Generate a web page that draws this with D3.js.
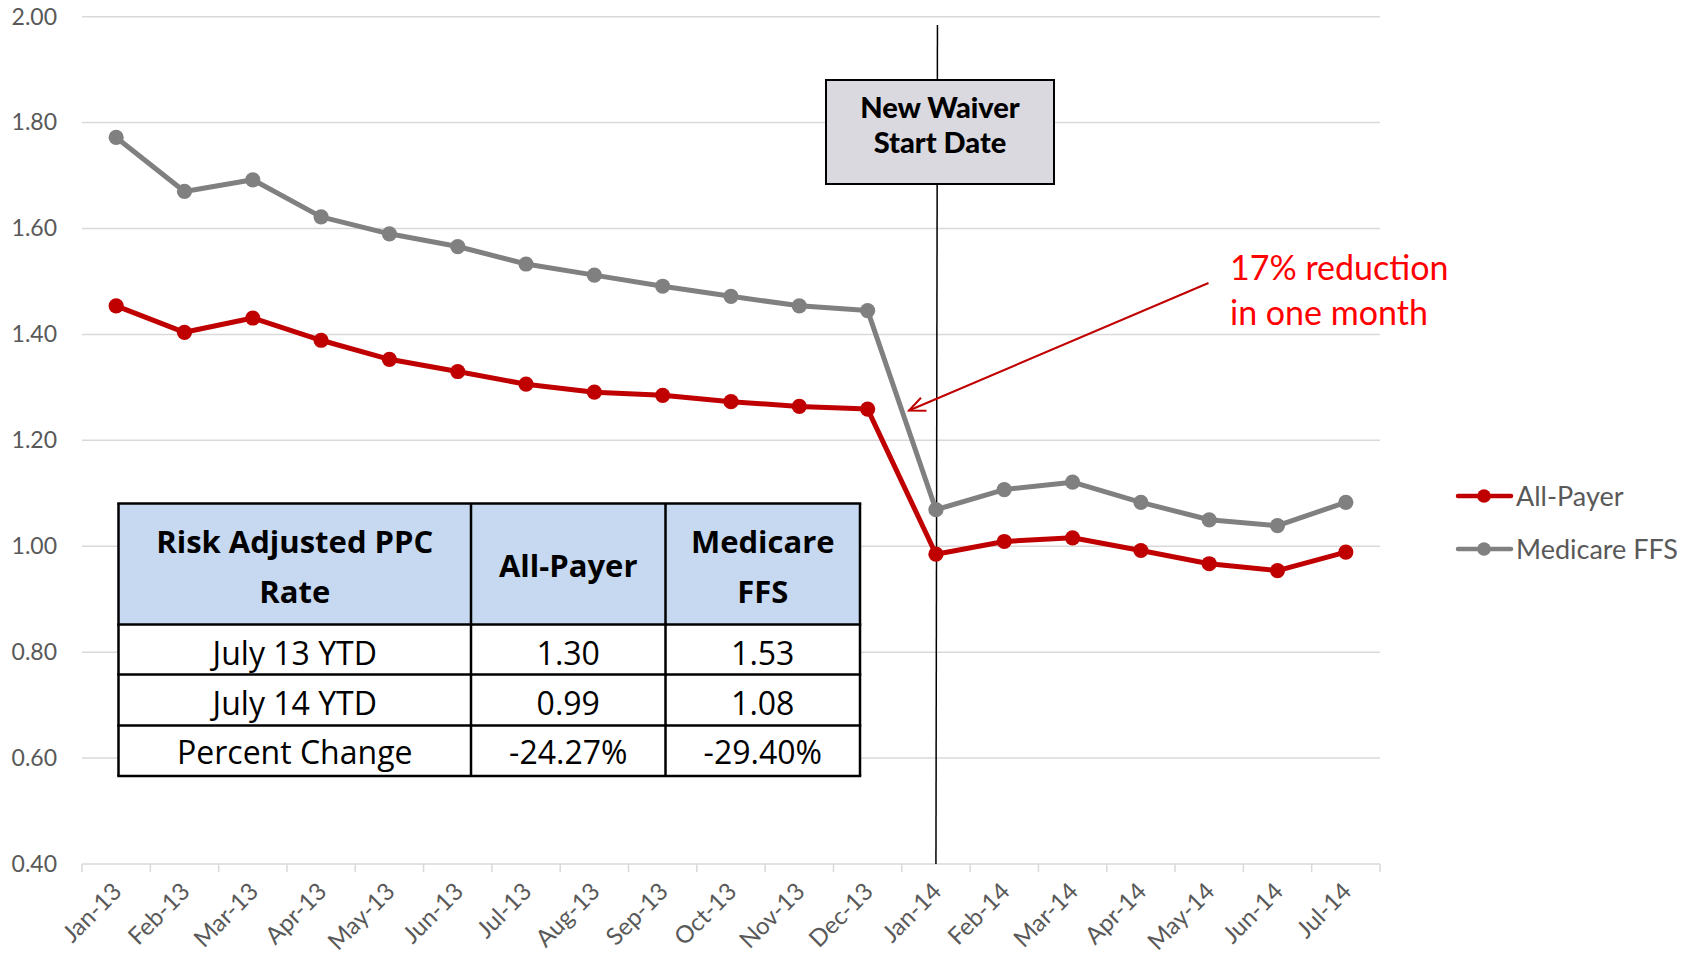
<!DOCTYPE html>
<html>
<head>
<meta charset="utf-8">
<script src="https://cdn.jsdelivr.net/npm/d3@7"></script>
<style>
  body { margin: 0; background: #fff; }
</style>
</head>
<body>
<script>
// Data
const months = ['Jan-13','Feb-13','Mar-13','Apr-13','May-13','Jun-13','Jul-13','Aug-13','Sep-13',
  'Oct-13','Nov-13','Dec-13','Jan-14','Feb-14','Mar-14','Apr-14','May-14','Jun-14','Jul-14'];
const allPayer = [1.454,1.404,1.431,1.389,1.353,1.330,1.306,1.291,1.285,1.273,1.264,1.259,
  0.985,1.009,1.016,0.992,0.967,0.954,0.989];
const medicareFFS = [1.772,1.670,1.692,1.622,1.590,1.566,1.533,1.512,1.491,1.472,1.454,1.445,
  1.069,1.107,1.121,1.083,1.050,1.039,1.083];
const yTicks = [0.4,0.6,0.8,1.0,1.2,1.4,1.6,1.8,2.0];
const waiverMonth = 'Jan-14';

const tableHeader = [['Risk Adjusted PPC','Rate'], ['All-Payer'], ['Medicare','FFS']];
const tableRowLabels = ['July 13 YTD','July 14 YTD','Percent Change'];
const allPayerSummary = ['1.30','0.99','-24.27%'];
const medicareSummary = ['1.53','1.08','-29.40%'];

let width = 1703, height = 955;
let margin = { top: 16.7, bottom: 91, left: 82, right: 323 };
const font = 'Lato, "Open Sans", sans-serif';

let svg = d3.select('body').append('svg')
  .attr('width', width)
  .attr('height', height)
  .style('background', '#fff');

let xScale = d3.scaleBand()
  .domain(months)
  .range([margin.left, width - margin.right]);

let yScale = d3.scaleLinear()
  .domain([0.4, 2.0])
  .range([height - margin.bottom, margin.top]);

let xc = m => xScale(m) + xScale.bandwidth() / 2;

// gridlines
svg.append('g')
  .selectAll('line')
  .data(yTicks)
  .join('line')
  .attr('x1', margin.left)
  .attr('x2', width - margin.right)
  .attr('y1', d => yScale(d))
  .attr('y2', d => yScale(d))
  .attr('stroke', '#d9d9d9')
  .attr('stroke-width', 1.5);

// y labels
let yAxis = svg.append('g')
  .attr('transform', `translate(${margin.left}, 0)`)
  .call(d3.axisLeft(yScale).tickValues(yTicks).tickSize(0).tickPadding(25).tickFormat(d3.format('.2f')));
yAxis.select('.domain').remove();
yAxis.selectAll('text')
  .style('font-family', font)
  .style('font-size', '23px')
  .attr('fill', '#595959');

// x axis ticks at band boundaries
let bounds = months.map(m => xScale(m)).concat([xScale.range()[1]]);
svg.append('g')
  .selectAll('line')
  .data(bounds)
  .join('line')
  .attr('x1', d => d).attr('x2', d => d)
  .attr('y1', yScale(0.4)).attr('y2', yScale(0.4) + 8)
  .attr('stroke', '#d9d9d9')
  .attr('stroke-width', 1.5);

svg.append('g')
  .selectAll('text')
  .data(months)
  .join('text')
  .attr('transform', d => `translate(${xc(d) + 7}, ${yScale(0.4) + 29}) rotate(-45)`)
  .attr('text-anchor', 'end')
  .style('font-family', font)
  .style('font-size', '24px')
  .attr('fill', '#595959')
  .text(d => d);

// waiver line and box
let wx = xc(waiverMonth);
svg.append('line')
  .attr('x1', wx + 1.5).attr('y1', 25)
  .attr('x2', wx).attr('y2', yScale(0.4))
  .attr('stroke', '#000')
  .attr('stroke-width', 1.5);

svg.append('rect')
  .attr('x', 826).attr('y', 80)
  .attr('width', 228).attr('height', 104)
  .attr('fill', '#d9d9df')
  .attr('stroke', '#000')
  .attr('stroke-width', 2);

svg.append('text')
  .attr('x', 940).attr('y', 118)
  .attr('text-anchor', 'middle')
  .style('font-family', font)
  .style('font-weight', '900')
  .style('font-size', '29px')
  .text('New Waiver');
svg.append('text')
  .attr('x', 940).attr('y', 153)
  .attr('text-anchor', 'middle')
  .style('font-family', font)
  .style('font-weight', '900')
  .style('font-size', '29px')
  .text('Start Date');

// lines
let line = d3.line()
  .x((d, i) => xc(months[i]))
  .y(d => yScale(d));

let series = [
  { name: 'All-Payer', values: allPayer, color: '#c00000' },
  { name: 'Medicare FFS', values: medicareFFS, color: '#808080' }
];

series.slice().reverse().forEach(s => {
  svg.append('path')
    .datum(s.values)
    .attr('d', line)
    .attr('fill', 'none')
    .attr('stroke', s.color)
    .attr('stroke-width', 5)
    .attr('stroke-linejoin', 'round');
  svg.append('g')
    .selectAll('circle')
    .data(s.values)
    .join('circle')
    .attr('cx', (d, i) => xc(months[i]))
    .attr('cy', d => yScale(d))
    .attr('r', 7.6)
    .attr('fill', s.color);
});

// annotation
svg.append('defs').append('marker')
  .attr('id', 'arrow')
  .attr('viewBox', '0 0 20 20')
  .attr('refX', 18).attr('refY', 10)
  .attr('markerWidth', 20).attr('markerHeight', 20)
  .attr('markerUnits', 'userSpaceOnUse')
  .attr('orient', 'auto')
  .append('path')
  .attr('d', 'M2,3 L18,10 L2,17')
  .attr('fill', 'none')
  .attr('stroke', '#c00000')
  .attr('stroke-width', 2);

svg.append('line')
  .attr('x1', 1208.5).attr('y1', 283)
  .attr('x2', 909).attr('y2', 410.5)
  .attr('stroke', '#c00000')
  .attr('stroke-width', 2)
  .attr('marker-end', 'url(#arrow)');

[['17% reduction', 280], ['in one month', 325]].forEach(t => {
  svg.append('text')
    .attr('x', 1230).attr('y', t[1])
    .style('font-family', font)
    .style('font-size', '34px')
    .attr('fill', '#ff0000')
    .text(t[0]);
});

// legend
series.forEach((s, i) => {
  let ly = 496 + i * 53;
  let g = svg.append('g');
  g.append('line')
    .attr('x1', 1458).attr('x2', 1511)
    .attr('y1', ly).attr('y2', ly)
    .attr('stroke', s.color)
    .attr('stroke-width', 4.5)
    .attr('stroke-linecap', 'round');
  g.append('circle')
    .attr('cx', 1484).attr('cy', ly).attr('r', 6.8)
    .attr('fill', s.color);
  g.append('text')
    .attr('x', 1516).attr('y', ly + 10)
    .style('font-family', font)
    .style('font-size', '27px')
    .attr('fill', '#595959')
    .text(s.name);
});

// summary table
const tFont = '"Open Sans", sans-serif';
let colX = [118.5, 471, 665.5, 860];
let rowY = [503.5, 624.5, 674.5, 725.5, 776];

svg.append('rect')
  .attr('x', colX[0]).attr('y', rowY[0])
  .attr('width', colX[3] - colX[0]).attr('height', rowY[1] - rowY[0])
  .attr('fill', '#c6d9f1');
svg.append('rect')
  .attr('x', colX[0]).attr('y', rowY[1])
  .attr('width', colX[3] - colX[0]).attr('height', rowY[4] - rowY[1])
  .attr('fill', '#fff');

let table = svg.append('g').attr('stroke', '#000').attr('stroke-width', 2.5);
colX.forEach(x => table.append('line')
  .attr('x1', x).attr('x2', x).attr('y1', rowY[0]).attr('y2', rowY[4]));
rowY.forEach(y => table.append('line')
  .attr('x1', colX[0] - 1.25).attr('x2', colX[3] + 1.25).attr('y1', y).attr('y2', y));

let colMid = [0, 1, 2].map(i => (colX[i] + colX[i + 1]) / 2);

tableHeader.forEach((lines, i) => {
  let ys = lines.length === 2 ? [553, 603] : [577];
  lines.forEach((t, j) => {
    svg.append('text')
      .attr('x', colMid[i]).attr('y', ys[j])
      .attr('text-anchor', 'middle')
      .style('font-family', tFont)
      .style('font-weight', 'bold')
      .style('font-size', '31px')
      .text(t);
  });
});

let bodyY = [665, 715, 764];
[tableRowLabels, allPayerSummary, medicareSummary].forEach((col, i) => {
  col.forEach((t, j) => {
    svg.append('text')
      .attr('x', colMid[i]).attr('y', bodyY[j])
      .attr('text-anchor', 'middle')
      .style('font-family', tFont)
      .style('font-size', '32px')
      .text(t);
  });
});
</script>
</body>
</html>
